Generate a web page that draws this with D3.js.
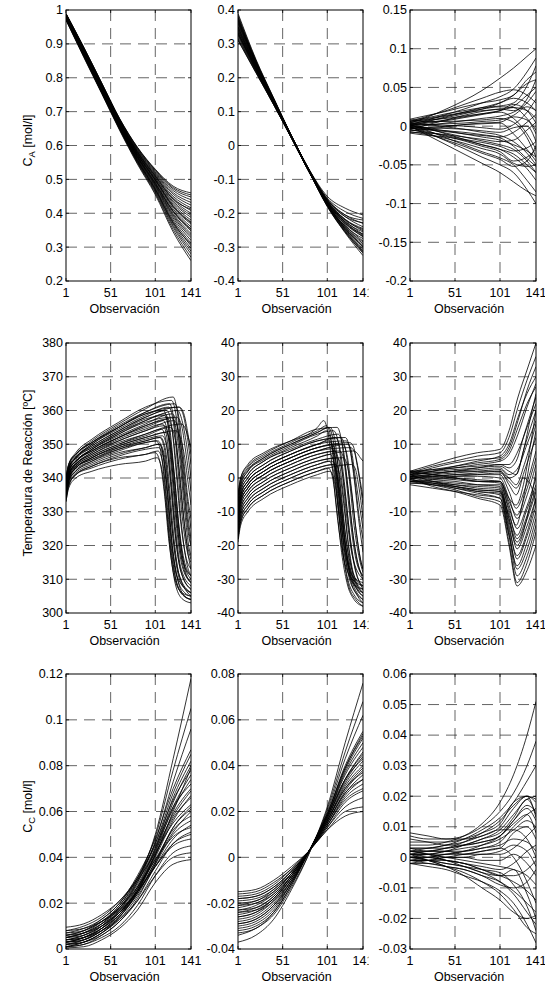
<!DOCTYPE html>
<html><head><meta charset="utf-8">
<script src="https://cdn.jsdelivr.net/npm/d3@7"></script>
<style>
body{margin:0;background:#fff}
svg{display:block;background:#fff}
text{font-family:"Liberation Sans",Arial,Helvetica,sans-serif;fill:#000}
</style>
</head><body>
<svg id="chart" width="545" height="984"></svg>
<script>
// ---------------- DATA ----------------
const obsTicks = [1, 51, 101, 141];
const obsTickLabels = ["1", "51", "101", "141"];
const xLabel = "Observación";
const yTitleMain = ["C", "Temperatura de Reacción [ºC]", "C"];
const yTitleSub = ["A", "", "C"];
const yTitleTail = [" [mol/l]", "", " [mol/l]"];

const caRawTicks = [0.2, 0.3, 0.4, 0.5, 0.6, 0.7, 0.8, 0.9, 1];
const caRawTickLabels = ["0.2", "0.3", "0.4", "0.5", "0.6", "0.7", "0.8", "0.9", "1"];
const caCenTicks = [-0.4, -0.3, -0.2, -0.1, 0, 0.1, 0.2, 0.3, 0.4];
const caCenTickLabels = ["-0.4", "-0.3", "-0.2", "-0.1", "0", "0.1", "0.2", "0.3", "0.4"];
const caResTicks = [-0.2, -0.15, -0.1, -0.05, 0, 0.05, 0.1, 0.15];
const caResTickLabels = ["-0.2", "-0.15", "-0.1", "-0.05", "0", "0.05", "0.1", "0.15"];
const tRawTicks = [300, 310, 320, 330, 340, 350, 360, 370, 380];
const tRawTickLabels = ["300", "310", "320", "330", "340", "350", "360", "370", "380"];
const tCenTicks = [-40, -30, -20, -10, 0, 10, 20, 30, 40];
const tCenTickLabels = ["-40", "-30", "-20", "-10", "0", "10", "20", "30", "40"];
const tResTicks = [-40, -30, -20, -10, 0, 10, 20, 30, 40];
const tResTickLabels = ["-40", "-30", "-20", "-10", "0", "10", "20", "30", "40"];
const ccRawTicks = [0, 0.02, 0.04, 0.06, 0.08, 0.1, 0.12];
const ccRawTickLabels = ["0", "0.02", "0.04", "0.06", "0.08", "0.1", "0.12"];
const ccCenTicks = [-0.04, -0.02, 0, 0.02, 0.04, 0.06, 0.08];
const ccCenTickLabels = ["-0.04", "-0.02", "0", "0.02", "0.04", "0.06", "0.08"];
const ccResTicks = [-0.03, -0.02, -0.01, 0, 0.01, 0.02, 0.03, 0.04, 0.05, 0.06];
const ccResTickLabels = ["-0.03", "-0.02", "-0.01", "0", "0.01", "0.02", "0.03", "0.04", "0.05", "0.06"];

// ---- C_A raw (values at observations caRawObs)
const caRawObs = [1, 21, 41, 61, 81, 101, 121, 141];
const caRawCurves = [
 [0.990,0.890,0.785,0.680,0.595,0.530,0.480,0.460],
 [0.989,0.889,0.784,0.679,0.594,0.528,0.476,0.454],
 [0.989,0.888,0.783,0.678,0.592,0.526,0.472,0.448],
 [0.988,0.887,0.782,0.677,0.590,0.523,0.467,0.440],
 [0.987,0.886,0.781,0.675,0.588,0.520,0.461,0.432],
 [0.986,0.885,0.779,0.674,0.586,0.517,0.456,0.424],
 [0.986,0.883,0.778,0.672,0.584,0.514,0.450,0.416],
 [0.985,0.882,0.777,0.671,0.582,0.511,0.445,0.408],
 [0.984,0.881,0.775,0.670,0.580,0.508,0.440,0.400],
 [0.983,0.880,0.774,0.668,0.579,0.505,0.435,0.394],
 [0.983,0.879,0.773,0.667,0.577,0.503,0.431,0.388],
 [0.982,0.878,0.772,0.666,0.575,0.500,0.426,0.380],
 [0.981,0.877,0.771,0.665,0.574,0.498,0.422,0.374],
 [0.981,0.876,0.770,0.664,0.572,0.496,0.418,0.368],
 [0.980,0.875,0.769,0.663,0.570,0.493,0.413,0.360],
 [0.979,0.874,0.768,0.661,0.569,0.490,0.408,0.354],
 [0.979,0.873,0.767,0.660,0.567,0.488,0.404,0.348],
 [0.978,0.872,0.766,0.659,0.565,0.485,0.399,0.340],
 [0.977,0.871,0.765,0.658,0.564,0.483,0.395,0.334],
 [0.977,0.870,0.764,0.657,0.562,0.481,0.391,0.328],
 [0.976,0.869,0.763,0.656,0.560,0.478,0.386,0.320],
 [0.975,0.868,0.761,0.654,0.558,0.475,0.380,0.312],
 [0.974,0.867,0.760,0.653,0.556,0.472,0.375,0.304],
 [0.974,0.865,0.759,0.651,0.554,0.469,0.369,0.296],
 [0.973,0.864,0.757,0.650,0.552,0.466,0.364,0.288],
 [0.972,0.863,0.756,0.649,0.550,0.463,0.359,0.280],
 [0.971,0.862,0.755,0.647,0.548,0.459,0.352,0.270],
 [0.970,0.860,0.753,0.645,0.545,0.455,0.345,0.260],
 [0.987,0.884,0.778,0.671,0.581,0.510,0.442,0.412],
 [0.978,0.872,0.766,0.659,0.566,0.488,0.406,0.352],
 [0.982,0.877,0.771,0.665,0.574,0.499,0.420,0.372],
 [0.975,0.867,0.760,0.652,0.556,0.471,0.372,0.308]
];

// ---- C_A centred
const caCenObs = [1, 21, 41, 61, 81, 101, 121, 141];
const caCenCurves = [
 [0.390,0.255,0.140,0.029,-0.072,-0.150,-0.185,-0.205],
 [0.385,0.252,0.139,0.028,-0.073,-0.155,-0.195,-0.215],
 [0.380,0.250,0.137,0.028,-0.073,-0.158,-0.205,-0.230],
 [0.375,0.247,0.136,0.027,-0.074,-0.160,-0.210,-0.240],
 [0.372,0.246,0.135,0.027,-0.074,-0.163,-0.218,-0.252],
 [0.368,0.244,0.134,0.027,-0.075,-0.165,-0.222,-0.262],
 [0.365,0.242,0.134,0.026,-0.075,-0.168,-0.228,-0.270],
 [0.360,0.240,0.132,0.026,-0.076,-0.170,-0.235,-0.282],
 [0.356,0.238,0.131,0.025,-0.076,-0.172,-0.240,-0.290],
 [0.352,0.236,0.130,0.025,-0.077,-0.174,-0.245,-0.300],
 [0.348,0.234,0.129,0.025,-0.077,-0.176,-0.250,-0.310],
 [0.345,0.232,0.129,0.024,-0.078,-0.178,-0.255,-0.318],
 [0.340,0.230,0.127,0.024,-0.078,-0.180,-0.258,-0.325],
 [0.336,0.228,0.126,0.023,-0.078,-0.172,-0.240,-0.285],
 [0.332,0.226,0.125,0.023,-0.079,-0.168,-0.225,-0.255],
 [0.328,0.224,0.124,0.023,-0.079,-0.162,-0.210,-0.228],
 [0.325,0.222,0.124,0.022,-0.079,-0.165,-0.218,-0.245],
 [0.320,0.220,0.122,0.022,-0.080,-0.175,-0.248,-0.305],
 [0.316,0.218,0.121,0.021,-0.080,-0.180,-0.255,-0.315],
 [0.312,0.216,0.120,0.021,-0.080,-0.176,-0.238,-0.275],
 [0.310,0.215,0.120,0.021,-0.080,-0.170,-0.230,-0.262],
 [0.350,0.235,0.130,0.025,-0.076,-0.166,-0.220,-0.248],
 [0.370,0.245,0.135,0.027,-0.075,-0.174,-0.246,-0.298],
 [0.362,0.241,0.133,0.026,-0.075,-0.160,-0.205,-0.220],
 [0.342,0.231,0.128,0.024,-0.078,-0.177,-0.252,-0.312],
 [0.334,0.227,0.126,0.023,-0.079,-0.169,-0.232,-0.268],
 [0.378,0.249,0.137,0.028,-0.074,-0.167,-0.226,-0.266],
 [0.330,0.225,0.125,0.023,-0.079,-0.173,-0.243,-0.295]
];

// ---- C_A deviations
const caResObs = [1, 21, 41, 61, 81, 101, 116, 131, 141];
const caResCurves = [
 [0.004,0.012,0.022,0.033,0.046,0.062,0.075,0.090,0.100],
 [0.006,0.013,0.020,0.028,0.036,0.044,0.047,0.040,0.030],
 [0.002,0.008,0.015,0.022,0.030,0.038,0.048,0.070,0.088],
 [0.008,0.011,0.016,0.020,0.024,0.026,0.030,0.052,0.078],
 [0.000,0.006,0.012,0.018,0.022,0.025,0.024,0.010,-0.005],
 [-0.004,0.002,0.008,0.014,0.019,0.022,0.020,0.035,0.060],
 [0.003,0.005,0.008,0.012,0.016,0.020,0.024,0.020,0.010],
 [0.007,0.008,0.010,0.013,0.016,0.018,0.010,-0.010,-0.030],
 [-0.002,0.001,0.004,0.007,0.010,0.013,0.018,0.030,0.045],
 [0.005,0.006,0.006,0.007,0.008,0.010,0.005,-0.015,-0.040],
 [0.001,0.002,0.003,0.004,0.006,0.008,0.014,0.025,0.020],
 [-0.006,-0.004,-0.001,0.002,0.004,0.005,0.012,0.008,-0.010],
 [0.002,0.002,0.001,0.000,-0.002,-0.004,0.002,0.018,0.035],
 [-0.001,-0.002,-0.003,-0.004,-0.006,-0.008,-0.002,0.000,-0.020],
 [0.004,0.002,-0.001,-0.004,-0.008,-0.012,-0.020,-0.035,-0.050],
 [-0.003,-0.005,-0.007,-0.010,-0.012,-0.014,-0.008,0.005,0.015],
 [0.000,-0.003,-0.006,-0.010,-0.014,-0.018,-0.024,-0.032,-0.040],
 [-0.008,-0.009,-0.011,-0.014,-0.017,-0.020,-0.018,-0.005,0.005],
 [0.001,-0.004,-0.009,-0.014,-0.019,-0.024,-0.030,-0.045,-0.060],
 [-0.005,-0.008,-0.012,-0.017,-0.021,-0.026,-0.032,-0.028,-0.020],
 [0.003,-0.003,-0.010,-0.017,-0.024,-0.030,-0.040,-0.055,-0.070],
 [-0.002,-0.007,-0.013,-0.019,-0.026,-0.033,-0.045,-0.040,-0.030],
 [-0.007,-0.011,-0.016,-0.022,-0.029,-0.036,-0.048,-0.052,-0.050],
 [0.002,-0.006,-0.015,-0.024,-0.033,-0.041,-0.050,-0.070,-0.085],
 [-0.004,-0.010,-0.018,-0.026,-0.035,-0.043,-0.052,-0.045,-0.025],
 [-0.001,-0.009,-0.019,-0.029,-0.040,-0.050,-0.060,-0.082,-0.100],
 [0.000,-0.012,-0.024,-0.036,-0.048,-0.060,-0.072,-0.084,-0.090],
 [0.009,0.014,0.019,0.025,0.030,0.034,0.040,0.060,0.070],
 [-0.009,-0.012,-0.014,-0.018,-0.024,-0.030,-0.036,-0.050,-0.060],
 [0.006,0.010,0.014,0.018,0.024,0.030,0.036,0.030,0.020],
 [0.003,0.007,0.011,0.016,0.022,0.030,0.040,0.055,0.060],
 [-0.003,-0.002,0.000,0.002,0.003,0.004,-0.010,-0.030,-0.045],
 [0.005,0.009,0.013,0.017,0.020,0.022,0.026,0.040,0.050],
 [-0.002,-0.004,-0.006,-0.008,-0.011,-0.015,-0.026,-0.042,-0.052],
 [0.001,0.004,0.007,0.011,0.015,0.020,0.028,0.020,0.004]
];

// ---- Temperature raw ([observation, value] pairs)
const tRawCurves = [
 [[1,333],[4,337],[12,340],[30,342],[60,344],[90,345],[103,346],[108,343],[113,332],[118,318],[124,308],[132,304],[141,303]],
 [[1,334],[4,338],[12,341],[30,343.5],[60,346],[90,347],[104,348],[109,345],[114,333],[119,319],[125,309],[133,305],[141,304]],
 [[1,335],[4,339],[12,342],[30,344.5],[60,347.5],[90,349],[105,350],[110,347],[115,335],[120,320],[126,310],[134,306],[141,305]],
 [[1,336],[4,340],[12,343],[30,346],[60,349],[90,351],[106,352],[111,349],[116,337],[121,322],[127,311],[135,307],[141,306]],
 [[1,334],[4,339],[12,342.5],[30,345],[60,348],[90,350.5],[104,351],[109,348],[114,336],[119,321],[125,311],[141,306]],
 [[1,337],[4,341],[12,344],[30,347],[60,350.5],[90,353],[108,354.5],[113,351],[118,339],[123,324],[129,313],[141,307]],
 [[1,336],[4,340.5],[12,344],[30,347.5],[60,351.5],[90,354.5],[109,356],[114,352],[119,339],[124,324],[130,313],[141,308]],
 [[1,338],[4,342],[12,345],[30,348],[60,352],[90,355.5],[110,357],[115,353],[120,340],[125,325],[131,314],[141,309]],
 [[1,337],[4,341],[12,344.5],[30,348.5],[60,353],[90,357],[112,359],[117,355],[122,342],[127,327],[133,316],[141,311]],
 [[1,339],[4,343],[12,346],[30,349.5],[60,354],[90,358],[114,360],[119,356],[124,343],[129,328],[135,317],[141,313]],
 [[1,338],[4,342.5],[12,346],[30,350],[60,355],[90,359.5],[117,362],[122,357],[127,344],[132,330],[137,320],[141,316]],
 [[1,340],[4,344],[12,347],[30,351],[60,356],[90,360.5],[121,364],[126,359],[131,346],[136,332],[141,322]],
 [[1,339],[4,343],[12,346.5],[30,350.5],[60,355.5],[90,359.5],[123,362],[128,357],[133,345],[138,333],[141,328]],
 [[1,336],[4,340],[12,343.5],[30,346.5],[60,350],[90,352.5],[118,355],[123,352],[128,342],[133,328],[138,317],[141,313]],
 [[1,337],[4,341],[12,344],[30,347],[60,351],[90,354],[122,357],[127,354],[132,345],[137,333],[141,325]],
 [[1,338],[4,342],[12,345.5],[30,349],[60,353.5],[90,357],[126,360],[131,357],[136,350],[141,340]],
 [[1,340],[4,344],[12,347],[30,350.5],[60,355],[90,359],[128,361],[133,359],[137,354],[141,347]],
 [[1,335],[4,339.5],[12,343],[30,346],[60,349.5],[90,352],[124,354],[129,352],[134,346],[138,338],[141,332]],
 [[1,336],[4,340.5],[12,343.5],[30,346.5],[60,350],[90,353],[130,356],[134,355],[138,352],[141,349]],
 [[1,334],[4,338.5],[12,341.5],[30,344],[60,347],[90,349],[106,350],[111,347],[116,336],[121,322],[127,312],[141,305]],
 [[1,333],[4,337.5],[12,341],[30,343],[60,345.5],[90,347],[101,347.5],[106,345],[111,336],[116,322],[122,311],[130,306],[141,304]],
 [[1,339],[4,343],[12,346],[30,349],[60,353.5],[90,357.5],[111,358.5],[116,355],[121,343],[126,328],[132,316],[141,310]],
 [[1,337],[4,341.5],[12,345],[30,348],[60,352],[90,355.5],[115,357.5],[120,354],[125,342],[130,327],[136,315],[141,311]],
 [[1,338],[4,342],[12,345],[30,348.5],[60,352.5],[90,356],[120,359],[125,356],[130,346],[135,332],[141,320]],
 [[1,335],[4,339],[12,342],[30,345],[60,348.5],[90,351],[107,352],[112,349],[117,337],[122,322],[128,311],[141,306]],
 [[1,337],[4,341],[12,344],[30,347.5],[60,351],[90,354],[111,355.5],[116,352],[121,340],[126,325],[132,314],[141,309]],
 [[1,339],[4,343],[12,346],[30,350],[60,354.5],[90,358.5],[116,361],[121,357],[126,344],[131,329],[137,318],[141,315]],
 [[1,336],[4,340],[12,343],[30,346],[60,349.5],[90,352],[113,353.5],[118,350],[123,339],[128,324],[134,313],[141,309]],
 [[1,338],[4,342],[12,345],[30,348.5],[60,353],[90,356.5],[119,358],[124,355],[129,344],[134,330],[139,319],[141,317]],
 [[1,334],[4,338],[12,341],[30,343.5],[60,346.5],[90,348.5],[105,349],[110,346],[115,335],[120,320],[126,310],[134,305],[141,304]],
 [[1,340],[4,344],[12,347.5],[30,351.5],[60,356.5],[90,361],[119,363],[124,359],[129,347],[134,333],[139,322],[141,320]],
 [[1,337],[4,341],[12,344.5],[30,348],[60,352],[90,355],[125,358],[130,356],[135,348],[141,336]],
 [[1,335],[4,339.5],[12,343],[30,345.5],[60,349],[90,351.5],[109,352.5],[114,349],[119,337],[124,322],[130,312],[141,307]],
 [[1,338],[4,342.5],[12,346],[30,349.5],[60,354],[90,358],[127,361],[132,359],[137,352],[141,344]],
 [[1,336],[4,340],[12,343],[30,345.5],[60,348.5],[90,350.5],[102,351],[107,348],[112,337],[117,322],[123,311],[131,306],[141,305]],
 [[1,339],[4,343.5],[12,347],[30,350.5],[60,355],[90,359],[110,360],[115,356],[120,343],[125,328],[131,316],[141,311]]
];

// ---- Temperature centred
const tCenCurves = [
 [[1,-18],[4,-13],[12,-9],[30,-5],[60,-1],[90,2],[102,3],[107,0],[112,-10],[117,-22],[123,-31],[131,-36],[141,-38]],
 [[1,-16],[4,-11],[12,-7],[30,-3],[60,1],[90,4],[103,5],[108,2],[113,-8],[118,-21],[124,-30],[132,-35],[141,-37]],
 [[1,-14],[4,-9],[12,-5],[30,-1],[60,3],[90,6],[104,7],[109,4],[114,-6],[119,-19],[125,-29],[133,-34],[141,-36]],
 [[1,-12],[4,-7],[12,-3],[30,1],[60,5],[90,8],[105,9],[110,6],[115,-4],[120,-17],[126,-27],[134,-33],[141,-35]],
 [[1,-10],[4,-5],[12,-1],[30,3],[60,7],[90,10],[103,11],[108,8],[113,-3],[118,-16],[124,-26],[132,-32],[141,-34]],
 [[1,-8],[4,-3],[12,1],[30,5],[60,9],[90,12.5],[100,14],[105,11],[110,0],[115,-13],[121,-24],[129,-31],[141,-33]],
 [[1,-6],[4,-1],[12,3],[30,6.5],[60,10.5],[90,15],[97,17],[102,13],[107,2],[112,-11],[118,-22],[126,-29],[141,-32]],
 [[1,-17],[4,-12],[12,-8],[30,-4],[60,0],[90,3],[110,4],[115,1],[120,-9],[125,-21],[131,-30],[141,-34]],
 [[1,-15],[4,-10],[12,-6],[30,-2],[60,2],[90,5],[112,6],[117,3],[122,-7],[127,-19],[133,-28],[141,-32]],
 [[1,-13],[4,-8],[12,-4],[30,0],[60,4],[90,7],[115,8],[120,5],[125,-5],[130,-17],[136,-26],[141,-30]],
 [[1,-11],[4,-6],[12,-2],[30,2],[60,6],[90,9],[118,10],[123,7],[128,-3],[133,-15],[138,-24],[141,-27]],
 [[1,-9],[4,-4],[12,0],[30,4],[60,8],[90,11],[121,12],[126,9],[131,0],[136,-12],[141,-22]],
 [[1,-7],[4,-2],[12,2],[30,5.5],[60,9.5],[90,13],[108,14],[113,11],[118,1],[123,-12],[129,-23],[141,-30]],
 [[1,-5],[4,0],[12,4],[30,7.5],[60,11],[90,14],[100,15.5],[105,12],[110,2],[115,-11],[121,-22],[129,-29],[141,-31]],
 [[1,-18],[4,-13],[12,-9],[30,-5],[60,-1],[90,2],[128,4],[132,3],[136,-2],[141,-12]],
 [[1,-14],[4,-9],[12,-5],[30,-1],[60,3],[90,6],[130,8],[134,7.5],[138,6],[141,5]],
 [[1,-12],[4,-7],[12,-3],[30,1],[60,5],[90,8],[124,10],[128,8],[132,1],[137,-8],[141,-15]],
 [[1,-10],[4,-5],[12,-1],[30,3],[60,7],[90,10],[110,12],[115,9],[120,-1],[125,-14],[131,-25],[141,-33]],
 [[1,-16],[4,-11],[12,-7],[30,-3],[60,1],[90,4],[106,5],[111,2],[116,-8],[121,-20],[127,-30],[135,-35],[141,-37]],
 [[1,-8],[4,-3],[12,1],[30,5],[60,8.5],[90,11.5],[113,13],[118,10],[123,0],[128,-13],[134,-24],[141,-29]],
 [[1,-6],[4,-1],[12,2.5],[30,6],[60,10],[90,13.5],[104,15],[109,12],[114,1],[119,-12],[125,-23],[133,-30],[141,-32]],
 [[1,-11],[4,-6],[12,-2],[30,2],[60,6],[90,9],[126,10.5],[130,9.5],[134,5],[138,-1],[141,-6]],
 [[1,-17],[4,-12],[12,-8],[30,-4],[60,0],[90,3],[107,4],[112,1],[117,-9],[122,-21],[128,-30],[141,-36]],
 [[1,-13],[4,-8],[12,-4],[30,0],[60,4],[90,7],[109,8],[114,5],[119,-5],[124,-18],[130,-28],[141,-34]],
 [[1,-9],[4,-4],[12,0],[30,4],[60,8],[90,11],[116,12],[121,9],[126,-1],[131,-14],[137,-24],[141,-28]],
 [[1,-7],[4,-2],[12,2],[30,6],[60,10],[90,13.5],[102,15],[107,12],[112,1],[117,-12],[123,-23],[131,-30],[141,-33]],
 [[1,-15],[4,-10],[12,-6],[30,-2],[60,2],[90,5],[119,6],[124,3],[129,-6],[134,-17],[139,-25],[141,-27]],
 [[1,-11],[4,-6],[12,-2],[30,2],[60,6],[90,9],[106,10],[111,7],[116,-3],[121,-16],[127,-27],[135,-33],[141,-35]],
 [[1,-5],[4,0],[12,3.5],[30,7],[60,11],[90,14.5],[112,15],[117,11],[122,0],[127,-13],[133,-24],[141,-29]],
 [[1,-19],[4,-14],[12,-10],[30,-6],[60,-2],[90,1],[104,2],[109,-1],[114,-11],[119,-23],[125,-32],[133,-36],[141,-38]],
 [[1,-12],[4,-7],[12,-3],[30,1],[60,5],[90,8],[127,9],[131,8],[135,3],[139,-4],[141,-8]],
 [[1,-10],[4,-5],[12,-1],[30,3],[60,7],[90,10],[122,11],[127,8],[132,-1],[137,-12],[141,-18]]
];

// ---- Temperature deviations
const tResCurves = [
 [[1,2],[26,4],[51,6],[76,7.5],[101,8.5],[111,14],[121,24],[131,32],[141,40]],
 [[1,1.5],[26,3.5],[51,5],[76,6.5],[101,7.5],[111,12],[121,21],[131,29],[141,36]],
 [[1,1],[26,3],[51,4.5],[76,5.5],[101,6],[111,9],[121,17],[131,26],[141,33]],
 [[1,2],[26,2.5],[51,3],[76,4],[101,5],[111,7],[121,13],[131,21],[141,28]],
 [[1,0.5],[26,2],[51,3],[76,3.5],[101,4],[111,4],[121,8],[131,15],[141,22]],
 [[1,1],[26,1.5],[51,2],[76,2.5],[101,3],[111,1],[121,3],[131,10],[141,17]],
 [[1,-0.5],[26,1],[51,2],[76,2],[101,2],[111,-2],[119,-5],[128,2],[141,12]],
 [[1,0],[26,0.5],[51,1],[76,1],[101,1],[111,-4],[119,-9],[129,-3],[141,8]],
 [[1,1.5],[26,1],[51,0.5],[76,0.5],[101,0],[111,-6],[120,-12],[130,-6],[141,4]],
 [[1,-1],[26,-0.5],[51,0],[76,-0.5],[101,-1],[111,-8],[120,-15],[130,-9],[141,0]],
 [[1,2],[26,1],[51,0],[76,-1],[101,-1.5],[111,-10],[120,-18],[130,-12],[141,-3]],
 [[1,0.5],[26,-0.5],[51,-1],[76,-2],[101,-2.5],[111,-12],[120,-21],[130,-15],[141,-6]],
 [[1,-1.5],[26,-1.5],[51,-2],[76,-3],[101,-3.5],[111,-14],[120,-24],[130,-18],[141,-8]],
 [[1,1],[26,-1],[51,-2.5],[76,-4],[101,-5],[111,-16],[120,-27],[130,-22],[141,-12]],
 [[1,-0.5],[26,-2],[51,-3.5],[76,-5.5],[101,-7],[111,-19],[120,-31],[130,-26],[141,-16]],
 [[1,0],[26,-2.5],[51,-4],[76,-6],[101,-8],[111,-20],[120,-32],[130,-28],[141,-20]],
 [[1,-1],[26,-1],[51,-1.5],[76,-2],[101,-2],[111,-9],[119,-14],[127,-6],[135,6],[141,14]],
 [[1,1.5],[26,1.5],[51,2],[76,3],[101,3.5],[111,2],[119,1],[127,8],[135,18],[141,25]],
 [[1,0.5],[26,0],[51,-0.5],[76,-1],[101,-1],[111,-6],[119,-8],[127,-2],[135,10],[141,20]],
 [[1,-1.5],[26,-2],[51,-3],[76,-4],[101,-4.5],[111,-13],[120,-20],[129,-14],[137,-4],[141,2]],
 [[1,2],[26,2],[51,2.5],[76,3],[101,4],[111,3],[119,5],[128,13],[141,24]],
 [[1,-2],[26,-3],[51,-4],[76,-5],[101,-6],[111,-17],[120,-26],[130,-20],[141,-10]],
 [[1,0],[26,0],[51,0.5],[76,1],[101,1.5],[111,-1],[119,-3],[127,0],[135,-2],[141,-8]],
 [[1,1],[26,2],[51,3.5],[76,5],[101,6.5],[111,10],[121,18],[131,25],[141,30]],
 [[1,-1],[26,-1.5],[51,-2.5],[76,-3.5],[101,-4],[111,-11],[120,-17],[130,-10],[141,-2]],
 [[1,0.5],[26,1],[51,1.5],[76,2],[101,2.5],[111,0],[119,-2],[128,4],[141,16]],
 [[1,-1],[26,-2],[51,-2.5],[76,-3.5],[101,-4],[111,-15],[120,-23],[130,-17],[141,-6]],
 [[1,1],[26,0.5],[51,0],[76,-1],[101,-1],[111,-7],[120,-11],[130,-4],[141,6]],
 [[1,0],[26,-1],[51,-2],[76,-2.5],[101,-3],[111,-12],[120,-19],[130,-13],[141,-4]],
 [[1,1.5],[26,2.5],[51,3.5],[76,4.5],[101,5.5],[111,8],[121,15],[131,22],[141,27]],
 [[1,-0.5],[26,-1.5],[51,-3],[76,-4.5],[101,-6],[111,-17],[120,-29],[130,-24],[141,-14]],
 [[1,0.5],[26,0.5],[51,1],[76,1.5],[101,2],[111,0],[119,1],[128,9],[141,20]]
];

// ---- C_C raw
const ccRawObs = [1, 21, 41, 61, 81, 101, 121, 141];
const ccRawCurves = [
 [0.003,0.005,0.010,0.018,0.030,0.050,0.083,0.118],
 [0.004,0.006,0.011,0.019,0.031,0.049,0.078,0.105],
 [0.002,0.004,0.009,0.017,0.029,0.047,0.073,0.096],
 [0.006,0.008,0.013,0.020,0.032,0.048,0.070,0.087],
 [0.005,0.007,0.012,0.019,0.030,0.046,0.068,0.085],
 [0.003,0.005,0.009,0.016,0.027,0.044,0.066,0.082],
 [0.007,0.009,0.013,0.020,0.031,0.046,0.065,0.078],
 [0.001,0.003,0.007,0.014,0.025,0.042,0.062,0.076],
 [0.008,0.010,0.014,0.021,0.031,0.045,0.062,0.072],
 [0.002,0.004,0.008,0.015,0.026,0.041,0.059,0.070],
 [0.004,0.006,0.010,0.017,0.027,0.041,0.057,0.066],
 [0.0095,0.011,0.015,0.021,0.030,0.042,0.055,0.063],
 [0.001,0.002,0.006,0.012,0.022,0.037,0.053,0.062],
 [0.005,0.007,0.010,0.016,0.026,0.039,0.052,0.058],
 [0.003,0.004,0.008,0.014,0.024,0.037,0.050,0.056],
 [0.007,0.008,0.012,0.018,0.027,0.039,0.049,0.053],
 [0.002,0.003,0.006,0.012,0.021,0.034,0.046,0.051],
 [0.006,0.007,0.011,0.016,0.025,0.036,0.045,0.048],
 [0.001,0.002,0.005,0.010,0.019,0.032,0.042,0.045],
 [0.004,0.005,0.008,0.013,0.021,0.032,0.040,0.042],
 [0.0005,0.001,0.004,0.009,0.017,0.029,0.037,0.039],
 [0.008,0.009,0.012,0.017,0.025,0.036,0.046,0.050],
 [0.003,0.005,0.009,0.015,0.025,0.040,0.056,0.067],
 [0.005,0.007,0.011,0.018,0.029,0.044,0.061,0.074],
 [0.002,0.003,0.007,0.013,0.023,0.036,0.048,0.054],
 [0.006,0.008,0.012,0.018,0.028,0.043,0.058,0.069],
 [0.004,0.005,0.009,0.015,0.024,0.038,0.051,0.060],
 [0.001,0.003,0.007,0.014,0.025,0.041,0.060,0.079],
 [0.003,0.004,0.008,0.015,0.026,0.043,0.064,0.080],
 [0.005,0.006,0.010,0.016,0.025,0.038,0.053,0.061]
];

// ---- C_C centred
const ccCenObs = [1, 21, 41, 61, 81, 101, 121, 141];
const ccCenCurves = [
 [-0.037,-0.034,-0.027,-0.014,0.002,0.022,0.050,0.076],
 [-0.034,-0.031,-0.025,-0.013,0.002,0.021,0.046,0.068],
 [-0.032,-0.030,-0.024,-0.012,0.003,0.020,0.043,0.062],
 [-0.030,-0.028,-0.022,-0.011,0.003,0.019,0.040,0.055],
 [-0.029,-0.027,-0.021,-0.011,0.003,0.019,0.039,0.053],
 [-0.028,-0.026,-0.020,-0.010,0.003,0.018,0.037,0.050],
 [-0.027,-0.025,-0.019,-0.010,0.003,0.018,0.036,0.048],
 [-0.026,-0.024,-0.019,-0.009,0.003,0.017,0.034,0.046],
 [-0.025,-0.023,-0.018,-0.009,0.003,0.017,0.033,0.044],
 [-0.024,-0.022,-0.017,-0.008,0.003,0.016,0.032,0.042],
 [-0.023,-0.021,-0.016,-0.008,0.003,0.016,0.031,0.040],
 [-0.022,-0.020,-0.016,-0.007,0.003,0.015,0.029,0.038],
 [-0.021,-0.019,-0.015,-0.007,0.003,0.015,0.028,0.036],
 [-0.020,-0.019,-0.014,-0.007,0.003,0.014,0.027,0.034],
 [-0.019,-0.018,-0.014,-0.006,0.003,0.014,0.026,0.032],
 [-0.018,-0.017,-0.013,-0.006,0.003,0.013,0.024,0.029],
 [-0.017,-0.016,-0.012,-0.005,0.003,0.013,0.022,0.026],
 [-0.016,-0.015,-0.011,-0.005,0.003,0.012,0.020,0.022],
 [-0.015,-0.014,-0.010,-0.004,0.003,0.012,0.018,0.020],
 [-0.026,-0.024,-0.018,-0.009,0.003,0.018,0.038,0.052],
 [-0.023,-0.022,-0.017,-0.008,0.003,0.015,0.028,0.034],
 [-0.029,-0.027,-0.021,-0.010,0.003,0.016,0.030,0.037],
 [-0.021,-0.020,-0.015,-0.007,0.003,0.017,0.034,0.045],
 [-0.031,-0.029,-0.023,-0.011,0.003,0.018,0.034,0.043],
 [-0.018,-0.017,-0.013,-0.006,0.003,0.014,0.025,0.030],
 [-0.033,-0.031,-0.024,-0.012,0.003,0.019,0.039,0.054],
 [-0.024,-0.023,-0.018,-0.008,0.003,0.016,0.030,0.039]
];

// ---- C_C deviations
const ccResObs = [1, 21, 41, 61, 81, 101, 116, 131, 141];
const ccResCurves = [
 [0.004,0.004,0.005,0.007,0.011,0.018,0.027,0.040,0.051],
 [0.007,0.006,0.006,0.007,0.010,0.015,0.021,0.030,0.038],
 [0.002,0.003,0.004,0.006,0.009,0.013,0.018,0.025,0.030],
 [0.001,0.002,0.003,0.005,0.008,0.012,0.017,0.020,0.019],
 [0.008,0.007,0.006,0.006,0.007,0.010,0.016,0.020,0.018],
 [0.000,0.001,0.002,0.004,0.006,0.009,0.014,0.019,0.020],
 [0.003,0.003,0.003,0.004,0.005,0.007,0.012,0.016,0.012],
 [0.001,0.001,0.002,0.003,0.004,0.006,0.009,0.012,0.010],
 [-0.001,0.000,0.001,0.002,0.003,0.005,0.010,0.014,0.016],
 [0.002,0.002,0.002,0.002,0.003,0.004,0.006,0.005,0.002],
 [0.000,0.000,0.001,0.001,0.002,0.003,0.008,0.010,0.006],
 [0.003,0.002,0.002,0.001,0.001,0.002,0.004,0.002,-0.003],
 [-0.002,-0.001,0.000,0.000,0.001,0.001,0.003,0.007,0.010],
 [0.001,0.001,0.000,0.000,-0.001,-0.001,0.001,-0.002,-0.006],
 [0.002,0.001,0.000,-0.001,-0.002,-0.003,-0.004,-0.006,-0.009],
 [-0.001,-0.001,-0.001,-0.002,-0.003,-0.004,-0.002,0.002,0.004],
 [0.000,0.000,-0.001,-0.002,-0.004,-0.006,-0.008,-0.011,-0.014],
 [0.002,0.001,-0.001,-0.002,-0.004,-0.006,-0.006,-0.004,-0.001],
 [-0.002,-0.002,-0.003,-0.004,-0.006,-0.008,-0.011,-0.015,-0.018],
 [0.001,0.000,-0.001,-0.003,-0.005,-0.008,-0.012,-0.018,-0.022],
 [-0.002,-0.003,-0.004,-0.006,-0.008,-0.011,-0.015,-0.022,-0.028],
 [0.000,-0.001,-0.003,-0.005,-0.008,-0.012,-0.017,-0.023,-0.025],
 [0.001,-0.001,-0.003,-0.006,-0.010,-0.014,-0.018,-0.020,-0.019],
 [-0.001,-0.002,-0.003,-0.004,-0.006,-0.009,-0.010,-0.008,-0.004],
 [0.002,0.002,0.003,0.004,0.006,0.008,0.013,0.019,0.014],
 [0.005,0.005,0.005,0.006,0.008,0.011,0.018,0.020,0.013],
 [-0.001,-0.001,0.000,0.001,0.002,0.003,0.000,-0.008,-0.015],
 [0.003,0.003,0.004,0.005,0.007,0.009,0.009,0.006,0.000],
 [0.000,-0.001,-0.002,-0.003,-0.005,-0.006,-0.004,-0.012,-0.020],
 [0.006,0.005,0.004,0.004,0.005,0.007,0.011,0.014,0.008],
 [0.001,0.001,0.001,0.002,0.004,0.007,0.012,0.017,0.015],
 [-0.001,-0.001,-0.002,-0.003,-0.004,-0.005,-0.009,-0.016,-0.024]
];

// ---------------- LAYOUT ----------------
const W = 545, H = 984;
const colX = [[66, 191], [238, 363], [410, 536]];
const rowY = [[10, 281], [343, 613], [674, 949]];
const FONT = 12.5;

function pairs(obs, vals) { return vals.map((v, i) => [obs[i], v]); }

const panels = [
 {r:0,c:0,ticks:caRawTicks,labels:caRawTickLabels,curves:caRawCurves.map(v=>pairs(caRawObs,v))},
 {r:0,c:1,ticks:caCenTicks,labels:caCenTickLabels,curves:caCenCurves.map(v=>pairs(caCenObs,v))},
 {r:0,c:2,ticks:caResTicks,labels:caResTickLabels,curves:caResCurves.map(v=>pairs(caResObs,v))},
 {r:1,c:0,ticks:tRawTicks,labels:tRawTickLabels,curves:tRawCurves},
 {r:1,c:1,ticks:tCenTicks,labels:tCenTickLabels,curves:tCenCurves},
 {r:1,c:2,ticks:tResTicks,labels:tResTickLabels,curves:tResCurves},
 {r:2,c:0,ticks:ccRawTicks,labels:ccRawTickLabels,curves:ccRawCurves.map(v=>pairs(ccRawObs,v))},
 {r:2,c:1,ticks:ccCenTicks,labels:ccCenTickLabels,curves:ccCenCurves.map(v=>pairs(ccCenObs,v))},
 {r:2,c:2,ticks:ccResTicks,labels:ccResTickLabels,curves:ccResCurves.map(v=>pairs(ccResObs,v))}
];

const svg = d3.select("#chart");
svg.append("rect").attr("width", W).attr("height", H).attr("fill", "#fff");
const defs = svg.append("defs");
defs.append("clipPath").attr("id", "clipCol2Labels")
  .append("rect").attr("x", 0).attr("y", 0).attr("width", 368.5).attr("height", H);

panels.forEach((p, idx) => {
  const [x0, x1] = colX[p.c];
  const [y0, y1] = rowY[p.r];
  const x = d3.scaleLinear().domain([1, 141]).range([x0, x1]);
  const y = d3.scaleLinear().domain([p.ticks[0], p.ticks[p.ticks.length - 1]]).range([y1, y0]);
  const g = svg.append("g");
  const cid = "clip" + idx;
  defs.append("clipPath").attr("id", cid).append("rect")
    .attr("x", x0).attr("y", y0).attr("width", x1 - x0).attr("height", y1 - y0);

  // grid (dashed)
  const grid = g.append("g").attr("stroke", "#222").attr("stroke-width", 0.7)
    .attr("stroke-dasharray", "11,7").attr("fill", "none");
  p.ticks.slice(1, -1).forEach(t => {
    grid.append("line").attr("x1", x0).attr("x2", x1).attr("y1", y(t)).attr("y2", y(t));
  });
  obsTicks.slice(1, -1).forEach(t => {
    grid.append("line").attr("x1", x(t)).attr("x2", x(t)).attr("y1", y0).attr("y2", y1);
  });

  // curves
  const line = d3.line().x(d => x(d[0])).y(d => y(d[1])).curve(d3.curveMonotoneX);
  g.append("g").attr("clip-path", `url(#${cid})`)
    .selectAll("path").data(p.curves).join("path")
    .attr("d", line).attr("fill", "none").attr("stroke", "#000")
    .attr("stroke-width", 0.8);

  // ticks (inside, MATLAB style)
  const tk = g.append("g").attr("stroke", "#000").attr("stroke-width", 0.8);
  p.ticks.forEach(t => {
    tk.append("line").attr("x1", x0).attr("x2", x0 + 3).attr("y1", y(t)).attr("y2", y(t));
    tk.append("line").attr("x1", x1).attr("x2", x1 - 3).attr("y1", y(t)).attr("y2", y(t));
  });
  obsTicks.forEach(t => {
    tk.append("line").attr("x1", x(t)).attr("x2", x(t)).attr("y1", y1).attr("y2", y1 - 3);
    tk.append("line").attr("x1", x(t)).attr("x2", x(t)).attr("y1", y0).attr("y2", y0 + 3);
  });

  // frame
  g.append("rect").attr("x", x0).attr("y", y0).attr("width", x1 - x0).attr("height", y1 - y0)
    .attr("fill", "none").attr("stroke", "#000").attr("stroke-width", 1);

  // y tick labels
  g.append("g").selectAll("text").data(p.ticks).join("text")
    .attr("x", x0 - 3).attr("y", d => y(d)).attr("dy", "0.35em")
    .attr("text-anchor", "end").attr("font-size", FONT)
    .text((d, i) => p.labels[i]);

  // x tick labels
  const xl = g.append("g");
  if (p.c === 1) xl.attr("clip-path", "url(#clipCol2Labels)");
  xl.selectAll("text").data(obsTicks).join("text")
    .attr("x", d => x(d)).attr("y", y1 + 15.5)
    .attr("text-anchor", "middle").attr("font-size", FONT)
    .text((d, i) => obsTickLabels[i]);

  // x title
  g.append("text").attr("x", (x0 + x1) / 2 - 4).attr("y", y1 + 32)
    .attr("text-anchor", "middle").attr("font-size", FONT).text(xLabel);

  // y title for the first column
  if (p.c === 0) {
    const cy = (y0 + y1) / 2 - 5;
    const t = g.append("text").attr("transform", `translate(32,${cy}) rotate(-90)`)
      .attr("text-anchor", "middle").attr("font-size", FONT);
    t.append("tspan").text(yTitleMain[p.r]);
    if (yTitleSub[p.r]) {
      t.append("tspan").attr("font-size", FONT * 0.75).attr("dy", 3).text(yTitleSub[p.r]);
      t.append("tspan").attr("dy", -3).text(yTitleTail[p.r]);
    }
  }
});
</script>
</body></html>
